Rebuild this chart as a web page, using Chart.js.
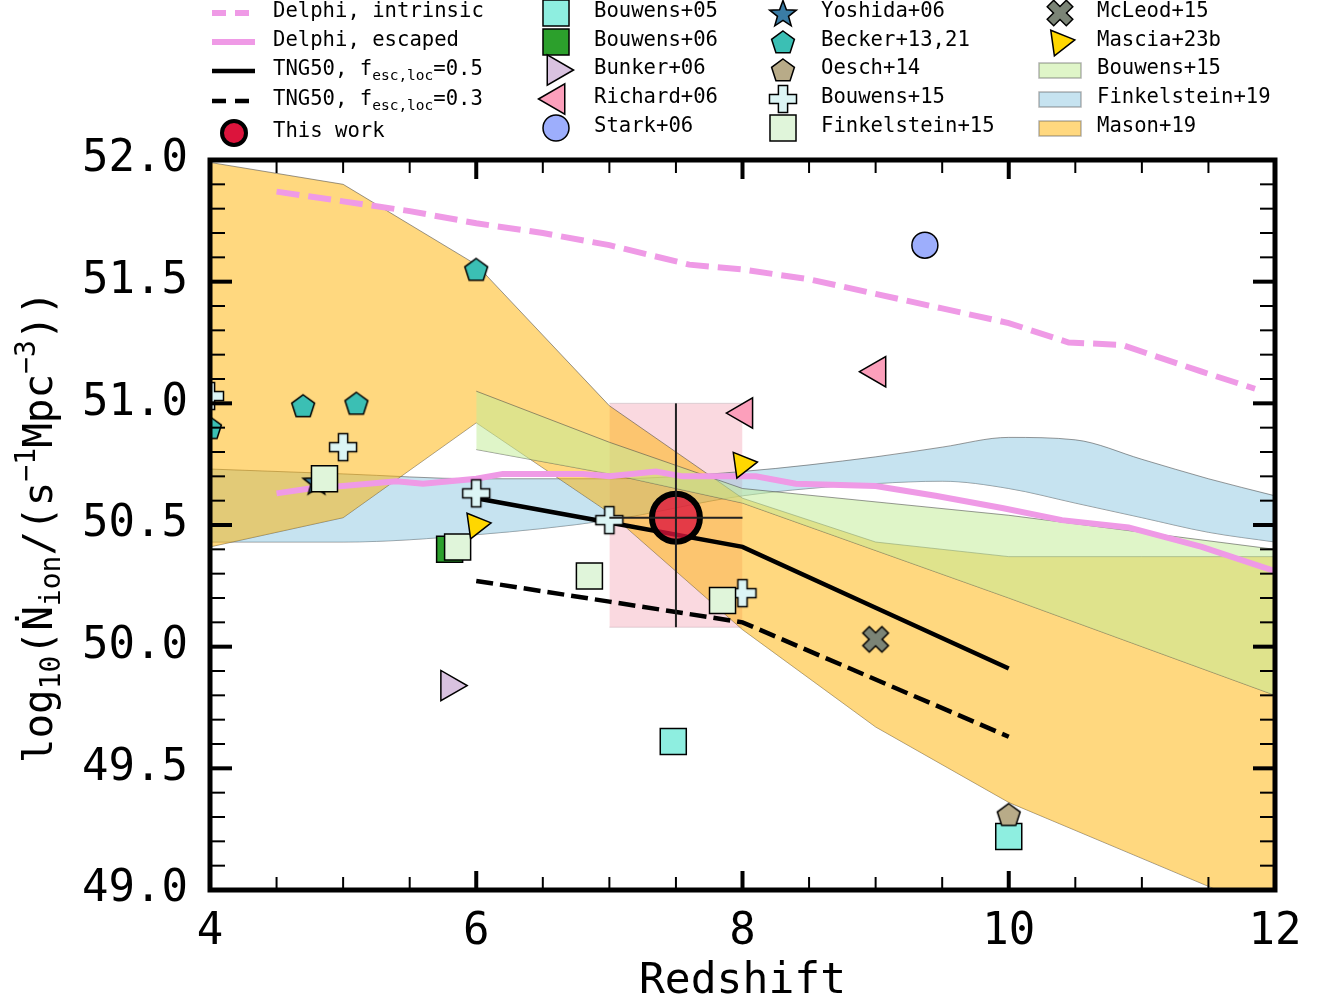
<!DOCTYPE html>
<html lang="en">
<head>
<meta charset="UTF-8">
<title>Ionizing photon rate density vs redshift</title>
<script src="https://cdn.jsdelivr.net/npm/chart.js"></script>
<style>
  body { margin: 0; background: #fff; }
  canvas { display: block; }
</style>
</head>
<body>
<canvas id="chart" width="1320" height="1003"></canvas>
<script>
// ---------- data ----------
const delphiIntZ = [4.5, 5.0, 5.5, 6.0, 6.5, 7.0, 7.6, 8.0, 8.5, 9.0, 9.5, 10.0, 10.45, 10.85, 11.45, 11.85];
const delphiIntY = [51.87, 51.83, 51.79, 51.74, 51.70, 51.65, 51.57, 51.55, 51.51, 51.45, 51.39, 51.33, 51.25, 51.24, 51.13, 51.06];

const delphiEscZ = [4.5, 4.75, 5.0, 5.4, 5.6, 6.0, 6.2, 6.8, 7.0, 7.35, 7.55, 8.1, 8.4, 9.0, 9.45, 9.95, 10.4, 10.9, 11.45, 12.0];
const delphiEscY = [50.63, 50.65, 50.66, 50.68, 50.67, 50.69, 50.71, 50.71, 50.70, 50.72, 50.70, 50.70, 50.67, 50.66, 50.62, 50.57, 50.52, 50.49, 50.41, 50.31];

const tngZ = [6, 7, 8, 9, 10];
const tng05Y = [50.61, 50.51, 50.41, 50.16, 49.91];
const tng03Y = [50.27, 50.185, 50.10, 49.865, 49.63];

const masonZ = [4, 5, 6, 7, 8, 9, 10, 11, 12];
const masonHi = [51.99, 51.90, 51.57, 50.99, 50.61, 50.43, 50.37, 50.37, 50.37];
const masonLo = [50.41, 50.53, 50.92, 50.55, 50.07, 49.67, 49.36, 49.13, 48.90];

const bouwensBandZ = [6, 7, 8, 10, 12];
const bouwensBandHi = [51.05, 50.84, 50.65, 50.54, 50.40];
const bouwensBandLo = [50.81, 50.71, 50.59, 50.20, 49.80];

const finkBandZ = [4, 5, 6, 7, 8, 9, 9.5, 10, 10.5, 11, 11.5, 12];
const finkBandHi = [50.73, 50.71, 50.69, 50.69, 50.72, 50.78, 50.82, 50.86, 50.85, 50.77, 50.69, 50.62];
const finkBandLo = [50.43, 50.43, 50.46, 50.52, 50.62, 50.67, 50.68, 50.65, 50.59, 50.53, 50.47, 50.43];

const bouwens05Z = [7.48, 10.0];   const bouwens05Y = [49.61, 49.22];
const bouwens06Z = [5.80];         const bouwens06Y = [50.40];
const bunker06Z = [5.80];          const bunker06Y = [49.84];
const richard06Z = [8.01, 9.01];   const richard06Y = [50.96, 51.13];
const stark06Z = [9.37];           const stark06Y = [51.65];
const yoshida06Z = [4.80];         const yoshida06Y = [50.68];
const beckerZ = [4.0, 4.7, 5.1, 6.0];           const beckerY = [50.90, 50.99, 51.00, 51.55];
const oesch14Z = [10.0];           const oesch14Y = [49.31];
const bouwens15Z = [4.0, 5.0, 6.0, 7.0, 8.0];   const bouwens15Y = [51.03, 50.82, 50.63, 50.52, 50.22];
const fink15Z = [4.86, 5.86, 6.85, 7.85];       const fink15Y = [50.69, 50.41, 50.29, 50.19];
const mcleod15Z = [9.0];           const mcleod15Y = [50.03];
const mascia23Z = [6.0, 8.0];      const mascia23Y = [50.50, 50.75];

const thisWorkZ = [7.5];
const thisWorkY = [50.53];
const thisWorkZErr = [7.0, 8.0];
const thisWorkYErr = [50.08, 51.00];

const xTicks = [4, 6, 8, 10, 12];
const yTicks = [49.0, 49.5, 50.0, 50.5, 51.0, 51.5, 52.0];

// ---------- helpers ----------
const MONO = "'DejaVu Sans Mono', monospace";
Chart.defaults.font.family = MONO;
Chart.defaults.color = '#000';

function pts(xs, ys) {
    return xs.map((x, i) => ({ x: x, y: ys[i] }));
}

// small canvases used as point styles for shapes Chart.js lacks
function shape(size, fill, path) {
    const c = document.createElement('canvas');
    c.width = size;
    c.height = size;
    const g = c.getContext('2d');
    g.translate(size / 2, size / 2);
    g.beginPath();
    path(g);
    g.closePath();
    g.fillStyle = fill;
    g.fill();
    g.lineWidth = 1.5;
    g.strokeStyle = '#000';
    g.stroke();
    return c;
}
function pentagon(fill) {
    return shape(28, fill, g => {
        for (let k = 0; k < 5; k++) {
            const a = -Math.PI / 2 + k * 2 * Math.PI / 5;
            g.lineTo(12 * Math.cos(a), 12 * Math.sin(a) + 1);
        }
    });
}
function star(fill) {
    return shape(32, fill, g => {
        for (let k = 0; k < 10; k++) {
            const a = -Math.PI / 2 + k * Math.PI / 5;
            const r = k % 2 ? 5.8 : 14;
            g.lineTo(r * Math.cos(a), r * Math.sin(a) + 1.5);
        }
    });
}
function plus(fill, rot) {
    return shape(34, fill, g => {
        g.rotate(rot);
        const a = 13.5, h = 4.6;
        const p = [[-h, -a], [h, -a], [h, -h], [a, -h], [a, h], [h, h], [h, a], [-h, a], [-h, h], [-a, h], [-a, -h], [-h, -h]];
        p.forEach(q => g.lineTo(q[0], q[1]));
    });
}

const beckerMark = pentagon('#3bbfb4');
const oeschMark = pentagon('#b8ab88');
const yoshidaMark = star('#3a7ca5');
const bouwens15Mark = plus('#dcf5f5', 0);
const mcleodMark = plus('#7b8476', Math.PI / 4);

// ---------- datasets ----------
const datasets = [];

// error bars of this work
datasets.push({ label: 'xerr', data: pts(thisWorkZErr, [thisWorkY[0], thisWorkY[0]]), borderColor: '#222', borderWidth: 2, pointRadius: 0, order: 0 });
datasets.push({ label: 'yerr', data: pts([thisWorkZ[0], thisWorkZ[0]], thisWorkYErr), borderColor: '#222', borderWidth: 2, pointRadius: 0, order: 0 });

datasets.push({
    label: 'This work', data: pts(thisWorkZ, thisWorkY), showLine: false,
    pointStyle: 'circle', pointRadius: 24, pointBorderWidth: 6,
    pointBackgroundColor: 'rgba(220,20,60,0.78)', pointBorderColor: '#000', order: 1,
    legendSlot: { col: 0, row: 4, style: 'circle', radius: 12, bw: 4, fill: '#dc143c' }
});

const scatterSpecs = [
    ['Bouwens+05', bouwens05Z, bouwens05Y, 'rect', 18.4, 0, '#8eeee0', 1, 0],
    ['Bouwens+06', bouwens06Z, bouwens06Y, 'rect', 18.4, 0, '#2ca02c', 1, 1],
    ['Bunker+06', bunker06Z, bunker06Y, 'triangle', 17.5, 90, '#d9c2e0', 1, 2],
    ['Richard+06', richard06Z, richard06Y, 'triangle', 17.5, 270, '#fc9fbb', 1, 3],
    ['Stark+06', stark06Z, stark06Y, 'circle', 13, 0, '#9daefc', 1, 4],
    ['Yoshida+06', yoshida06Z, yoshida06Y, yoshidaMark, 14, 0, '#3a7ca5', 2, 0],
    ['Becker+13,21', beckerZ, beckerY, beckerMark, 12, 0, '#3bbfb4', 2, 1],
    ['Oesch+14', oesch14Z, oesch14Y, oeschMark, 12, 0, '#b8ab88', 2, 2],
    ['Bouwens+15', bouwens15Z, bouwens15Y, bouwens15Mark, 14, 0, '#dcf5f5', 2, 3],
    ['Finkelstein+15', fink15Z, fink15Y, 'rect', 18.4, 0, '#e0f5da', 2, 4],
    ['McLeod+15', mcleod15Z, mcleod15Y, mcleodMark, 14, 0, '#7b8476', 3, 0],
    ['Mascia+23b', mascia23Z, mascia23Y, 'triangle', 15, 82, '#ffd700', 3, 1]
];
scatterSpecs.forEach((s, i) => {
    datasets.push({
        label: s[0], data: pts(s[1], s[2]), showLine: false,
        pointStyle: s[3], pointRadius: s[4], pointRotation: s[5],
        pointBackgroundColor: s[6], pointBorderColor: '#000', pointBorderWidth: 1.5,
        order: 20 - i,
        legendSlot: { col: s[7], row: s[8], style: s[3], radius: s[4], rot: s[5], bw: 1.5, fill: s[6] }
    });
});

datasets.push({
    label: 'TNG50 0.5', data: pts(tngZ, tng05Y), borderColor: '#000', borderWidth: 4.5, pointRadius: 0, order: 30,
    legendSlot: { col: 0, row: 2, line: true, dash: [] }
});
datasets.push({
    label: 'TNG50 0.3', data: pts(tngZ, tng03Y), borderColor: '#000', borderWidth: 4.5, borderDash: [17, 7], pointRadius: 0, order: 31,
    legendSlot: { col: 0, row: 3, line: true, dash: [14, 9] }
});
datasets.push({
    label: 'Delphi, escaped', data: pts(delphiEscZ, delphiEscY), borderColor: '#ef9ae6', borderWidth: 6, pointRadius: 0, order: 32,
    legendSlot: { col: 0, row: 1, line: true, dash: [] }
});
datasets.push({
    label: 'Delphi, intrinsic', data: pts(delphiIntZ, delphiIntY), borderColor: '#ef9ae6', borderWidth: 6, borderDash: [23, 9], pointRadius: 0, order: 33,
    legendSlot: { col: 0, row: 0, line: true, dash: [14, 9] }
});

// shaded bands: upper edge fills down to the next dataset
const bandEdge = 'rgba(70,70,70,0.55)';
function band(label, zs, hi, lo, color, order, slot, smooth) {
    const common = { borderColor: bandEdge, borderWidth: 1, pointRadius: 0, cubicInterpolationMode: smooth ? 'monotone' : 'default' };
    datasets.push(Object.assign({ label: label, data: pts(zs, hi), fill: '+1', backgroundColor: color, order: order, legendSlot: slot }, common));
    datasets.push(Object.assign({ label: label + ' lo', data: pts(zs, lo), fill: false, order: order + 1 }, common));
}
band('Bouwens+15 band', bouwensBandZ, bouwensBandHi, bouwensBandLo, 'rgba(195,236,151,0.53)', 40, { col: 3, row: 2, patch: true }, false);
band('Mason+19', masonZ, masonHi, masonLo, 'rgba(255,177,0,0.5)', 42, { col: 3, row: 4, patch: true }, false);
band('Finkelstein+19', finkBandZ, finkBandHi, finkBandLo, 'rgba(142,199,225,0.5)', 44, { col: 3, row: 3, patch: true }, true);

// pink error box of this work
datasets.push({ label: 'box', data: pts(thisWorkZErr, [thisWorkYErr[1], thisWorkYErr[1]]), fill: '+1', backgroundColor: 'rgba(240,150,170,0.36)', borderColor: 'rgba(200,190,195,0.6)', borderWidth: 1, pointRadius: 0, order: 46 });
datasets.push({ label: 'box lo', data: pts(thisWorkZErr, [thisWorkYErr[0], thisWorkYErr[0]]), fill: false, borderColor: 'rgba(200,190,195,0.6)', borderWidth: 1, pointRadius: 0, order: 47 });

// ---------- legend layout ----------
const legendMarkX = [212, 556, 783, 1060];
const legendTextX = [273, 594, 821, 1097];
const legendRowY = [[13, 42, 71, 101, 133], [13, 42, 70, 99, 128], [13, 42, 70, 99, 128], [13, 42, 70, 99, 128]];
const legendText = {
    'Delphi, intrinsic': [['Delphi, intrinsic']],
    'Delphi, escaped': [['Delphi, escaped']],
    'TNG50 0.5': [['TNG50, f'], ['esc,loc', 1], ['=0.5']],
    'TNG50 0.3': [['TNG50, f'], ['esc,loc', 1], ['=0.3']],
    'Bouwens+15 band': [['Bouwens+15']]
};

function drawMarker(ctx, m, x, y) {
    ctx.save();
    ctx.translate(x, y);
    const st = m.style;
    if (st instanceof HTMLCanvasElement) {
        ctx.drawImage(st, -st.width / 2, -st.height / 2);
        ctx.restore();
        return;
    }
    ctx.fillStyle = m.fill;
    ctx.strokeStyle = '#000';
    ctx.lineWidth = m.bw;
    ctx.beginPath();
    if (st === 'circle') {
        ctx.arc(0, 0, m.radius, 0, Math.PI * 2);
    } else if (st === 'rect') {
        const s = m.radius * Math.SQRT1_2;
        ctx.rect(-s, -s, 2 * s, 2 * s);
    } else {
        let a = (m.rot || 0) * Math.PI / 180;
        for (let k = 0; k < 3; k++) {
            ctx.lineTo(Math.sin(a) * m.radius, -Math.cos(a) * m.radius);
            a += 2 * Math.PI / 3;
        }
        ctx.closePath();
    }
    ctx.fill();
    ctx.stroke();
    ctx.restore();
}

function drawSegments(ctx, segs, x, y, size, subSize, subDy, supDy) {
    segs.forEach(s => {
        const kind = s[1] || 0;
        ctx.font = (kind ? subSize : size) + 'px ' + MONO;
        const dy = kind === 1 ? subDy : (kind === 2 ? supDy : 0);
        ctx.fillText(s[0], x, y + dy);
        x += ctx.measureText(s[0]).width;
    });
    return x;
}

const decorations = {
    id: 'decorations',
    afterDatasetsDraw(chart) {
        const { ctx, chartArea: a, scales: { x, y } } = chart;
        ctx.save();
        ctx.strokeStyle = '#000';
        const seg = (x1, y1, x2, y2) => { ctx.beginPath(); ctx.moveTo(x1, y1); ctx.lineTo(x2, y2); ctx.stroke(); };
        for (let i = 0; i <= 16; i++) {
            const px = x.getPixelForValue(4 + i * 0.5);
            const major = i % 4 === 0;
            const len = major ? 19 : 13;
            ctx.lineWidth = major ? 4 : 2;
            seg(px, a.bottom, px, a.bottom - len);
            seg(px, a.top, px, a.top + len);
        }
        for (let i = 0; i <= 30; i++) {
            const py = y.getPixelForValue(49 + i * 0.1);
            const major = i % 5 === 0;
            const len = major ? 22 : 15;
            ctx.lineWidth = major ? 4 : 2;
            seg(a.left, py, a.left + len, py);
            seg(a.right, py, a.right - len, py);
        }
        ctx.lineWidth = 5;
        ctx.strokeRect(a.left, a.top, a.right - a.left, a.bottom - a.top);
        ctx.restore();
    },
    afterDraw(chart) {
        const ctx = chart.ctx;
        ctx.save();
        ctx.fillStyle = '#000';

        // y axis title with sub/superscripts
        const ySegs = [['log'], ['10', 1], ['('], ['Ṅ'], ['ion', 1], ['/(s'], ['−1', 2], ['Mpc'], ['−3', 2], ['))']];
        ctx.translate(52, 527);
        ctx.rotate(-Math.PI / 2);
        ctx.textBaseline = 'alphabetic';
        let w = 0;
        ySegs.forEach(s => { ctx.font = (s[1] ? 28 : 41) + 'px ' + MONO; w += ctx.measureText(s[0]).width; });
        drawSegments(ctx, ySegs, -w / 2, 0, 41, 28, 8, -17);
        ctx.restore();

        // legend
        ctx.save();
        ctx.textBaseline = 'middle';
        chart.data.datasets.forEach(ds => {
            const L = ds.legendSlot;
            if (!L) return;
            const yy = legendRowY[L.col][L.row];
            const mx = legendMarkX[L.col];
            if (L.line) {
                ctx.strokeStyle = ds.borderColor;
                ctx.lineWidth = ds.borderWidth;
                ctx.setLineDash(L.dash);
                ctx.beginPath();
                ctx.moveTo(mx, yy);
                ctx.lineTo(mx + 43, yy);
                ctx.stroke();
                ctx.setLineDash([]);
            } else if (L.patch) {
                ctx.fillStyle = ds.backgroundColor;
                ctx.fillRect(mx - 21, yy - 7, 42, 15);
                ctx.strokeStyle = 'rgba(90,90,90,0.45)';
                ctx.lineWidth = 1.5;
                ctx.strokeRect(mx - 21, yy - 7, 42, 15);
            } else {
                drawMarker(ctx, L, L.col === 0 ? 234 : mx, yy);
            }
            ctx.fillStyle = '#000';
            const segs = legendText[ds.label] || [[ds.label]];
            drawSegments(ctx, segs, legendTextX[L.col], yy - 1, 20.6, 14.5, 6, 0);
        });
        ctx.restore();
    }
};

// ---------- chart ----------
new Chart(document.getElementById('chart'), {
    type: 'line',
    data: { datasets: datasets },
    plugins: [decorations],
    options: {
        responsive: false,
        animation: false,
        events: [],
        layout: { padding: { top: 160, right: 45, left: 0, bottom: 0 } },
        plugins: { legend: { display: false }, tooltip: { enabled: false } },
        elements: { line: { tension: 0 } },
        scales: {
            x: {
                type: 'linear', min: 4, max: 12,
                afterBuildTicks: s => { s.ticks = xTicks.map(v => ({ value: v })); },
                afterFit: s => { s.height = 113; },
                ticks: { font: { size: 44 }, color: '#000', padding: 16, maxRotation: 0, callback: v => String(v) },
                grid: { display: false, drawTicks: false },
                border: { display: false },
                title: { display: true, text: 'Redshift', font: { size: 43 }, color: '#000', padding: { top: 0, bottom: -5 } }
            },
            y: {
                min: 49, max: 52,
                afterBuildTicks: s => { s.ticks = yTicks.map(v => ({ value: v })); },
                afterFit: s => { s.width = 210; },
                ticks: { font: { size: 44 }, color: '#000', padding: 22, callback: v => Number(v).toFixed(1) },
                grid: { display: false, drawTicks: false },
                border: { display: false }
            }
        }
    }
});
</script>
</body>
</html>
